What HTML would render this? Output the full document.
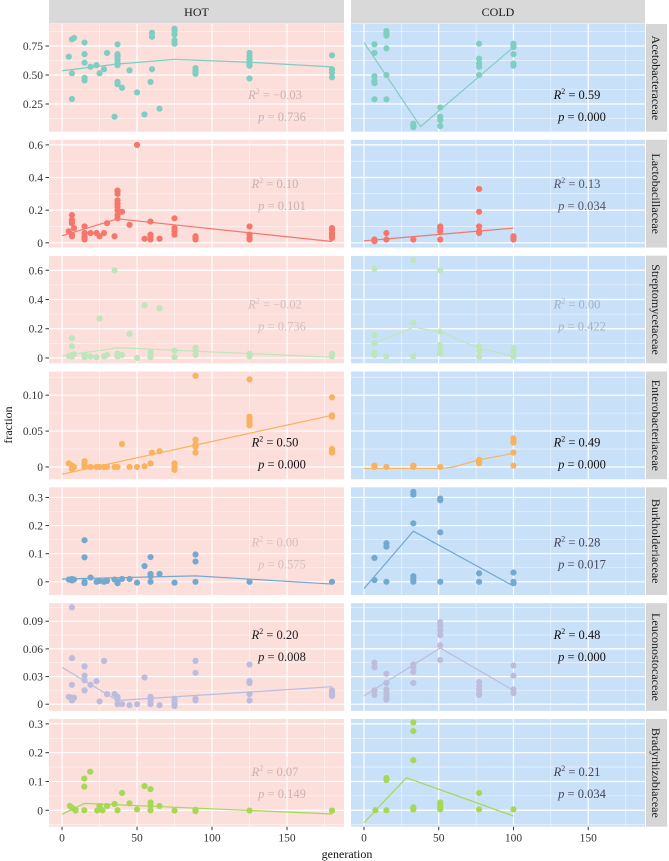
<!DOCTYPE html>
<html><head><meta charset="utf-8">
<style>
html,body{margin:0;padding:0;background:#fff;}
svg{display:block;font-family:"Liberation Serif",serif;}
</style></head>
<body>
<svg id="chart" width="669" height="861" viewBox="0 0 669 861" xmlns="http://www.w3.org/2000/svg"></svg>
<script>
// ---- data ----
const families = ["Acetobacteraceae","Lactobacillaceae","Streptomycetaceae","Enterobacteriaceae","Burkholderiaceae","Leuconostocaceae","Bradyrhizobiaceae"];
const conditions = ["HOT","COLD"];
const xTicks = [0,50,100,150];
const yTicks = [[0.25,0.5,0.75],[0,0.2,0.4,0.6],[0,0.2,0.4,0.6],[0,0.05,0.10],[0,0.1,0.2,0.3],[0,0.03,0.06,0.09],[0,0.1,0.2,0.3]];
const yTickLabels = [["0.25","0.50","0.75"],["0","0.2","0.4","0.6"],["0","0.2","0.4","0.6"],["0","0.05","0.10"],["0","0.1","0.2","0.3"],["0","0.03","0.06","0.09"],["0","0.1","0.2","0.3"]];
const yDomains = [[0.011,0.94],[-0.029,0.631],[-0.037,0.70],[-0.017,0.133],[-0.047,0.336],[-0.0072,0.1096],[-0.057,0.317]];
const seriesColors = ["#80cdc1","#f4776b","#bde6bd","#f9b25e","#74a9cf","#bcbddc","#a6d854"];

const acetoHot = [[4.5,0.658],[6.6,0.808],[8,0.82],[6.6,0.515],[6.6,0.293],[15,0.78],[15,0.68],[15,0.606],[15,0.475],[15,0.453],[19,0.571],[23,0.585],[25,0.515],[28,0.55],[30,0.69],[37,0.765],[37,0.68],[37,0.66],[37,0.63],[37,0.6],[37,0.585],[37,0.44],[37,0.42],[40,0.39],[35,0.14],[45,0.54],[50,0.35],[55,0.16],[60,0.865],[60,0.83],[60,0.55],[59,0.44],[65,0.21],[75,0.9],[75,0.88],[75,0.85],[75,0.8],[75,0.77],[89,0.56],[89,0.54],[89,0.52],[89,0.51],[125,0.69],[125,0.66],[125,0.63],[125,0.6],[125,0.58],[125,0.47],[180,0.67],[180,0.55],[180,0.52],[180,0.48]];
const acetoCold = [[7,0.765],[7,0.69],[7,0.49],[7,0.45],[7,0.43],[7,0.29],[15,0.88],[15,0.86],[15,0.84],[15,0.73],[15,0.5],[15,0.29],[33,0.08],[33,0.06],[33,0.05],[51,0.22],[51,0.14],[51,0.11],[51,0.06],[77,0.77],[77,0.64],[77,0.6],[77,0.57],[77,0.5],[100,0.77],[100,0.75],[100,0.74],[100,0.68],[100,0.6],[100,0.58]];
const lactoHot = [[4.5,0.07],[6.6,0.17],[6.6,0.14],[6.6,0.13],[6.6,0.12],[6.6,0.05],[6.6,0.04],[8,0.09],[15,0.1],[15,0.06],[15,0.04],[15,0.03],[15,0.02],[19,0.06],[23,0.06],[25,0.04],[28,0.06],[30,0.12],[35,0.04],[37,0.32],[37,0.3],[37,0.26],[37,0.24],[37,0.22],[37,0.2],[37,0.17],[37,0.15],[40,0.19],[45,0.11],[50,0.6],[55,0.025],[59,0.13],[59,0.05],[59,0.04],[59,0.02],[65,0.025],[75,0.15],[75,0.09],[75,0.07],[75,0.05],[89,0.04],[89,0.03],[89,0.02],[125,0.1],[125,0.05],[125,0.03],[125,0.02],[180,0.09],[180,0.08],[180,0.06],[180,0.05],[180,0.04],[180,0.03]];
const lactoCold = [[7,0.02],[7,0.01],[15,0.06],[15,0.02],[33,0.02],[51,0.1],[51,0.09],[51,0.07],[51,0.02],[77,0.33],[77,0.19],[77,0.1],[77,0.07],[77,0.06],[100,0.04],[100,0.03],[100,0.02]];
const streptoHot = [[4.5,0.014],[6.6,0.135],[6.6,0.08],[6.6,0.02],[6.6,0.01],[8,0.025],[15,0.02],[15,0.005],[19,0.01],[23,0.005],[25,0.27],[28,0.01],[30,0.02],[35,0.6],[37,0.03],[37,0.02],[37,0.01],[40,0.02],[45,0.165],[50,0.0],[55,0.36],[59,0.04],[59,0.02],[59,0.005],[65,0.34],[75,0.05],[75,0.005],[89,0.07],[89,0.05],[89,0.02],[125,0.03],[125,0.02],[125,0.01],[180,0.03],[180,0.02],[180,0.01]];
const streptoCold = [[7,0.61],[33,0.67],[51,0.6],[7,0.157],[7,0.1],[7,0.04],[7,0.02],[15,0.01],[33,0.24],[33,0.01],[51,0.18],[51,0.09],[51,0.06],[51,0.03],[77,0.08],[77,0.05],[77,0.01],[100,0.07],[100,0.04],[100,0.01]];
const enteroHot = [[4.5,0.005],[6.6,0.002],[6.6,-0.003],[8,0],[15,0.008],[15,0.004],[15,0],[19,0],[23,0],[25,0],[28,0],[30,0],[35,0],[37,0],[40,0.032],[45,0],[50,0],[55,0.001],[59,0.005],[60,0.02],[65,0.022],[75,0.005],[75,0],[75,-0.004],[89,0.127],[89,0.038],[89,0.031],[89,0.028],[89,0.02],[125,0.122],[125,0.07],[125,0.067],[125,0.062],[125,0.058],[180,0.097],[180,0.072],[180,0.07],[180,0.025],[180,0.022],[180,0.02]];
const enteroCold = [[7,0.002],[7,0],[15,0],[33,0.002],[33,0],[51,0],[77,0.01],[77,0.007],[77,0.005],[100,0.04],[100,0.037],[100,0.034],[100,0.02],[100,0.002]];
const burkhoHot = [[4.5,0.008],[6.6,0.01],[6.6,0.005],[8,0.008],[15,0.148],[15,0.087],[15,0],[15,-0.005],[19,0.015],[23,0],[25,0.003],[28,0],[30,0.003],[35,0.008],[37,0],[37,-0.005],[40,0.01],[45,0.01],[50,-0.003],[55,0.056],[59,0.088],[59,0.028],[59,0.02],[59,0],[65,0.028],[75,-0.003],[89,0.097],[89,0.072],[89,0],[125,0],[180,0]];
const burkhoCold = [[7,0.085],[7,0.006],[15,0.137],[15,0.125],[15,0],[33,0.32],[33,0.31],[33,0.208],[33,0.02],[33,0.01],[33,0],[51,0.296],[51,0.29],[51,0.176],[51,0],[77,0.03],[77,0],[100,0.033],[100,0],[100,-0.005]];
const leucoHot = [[4.5,0.008],[6.6,0.105],[6.6,0.05],[6.6,0.021],[6.6,0.007],[6.6,0.004],[8,0.007],[15,0.041],[15,0.031],[15,0.026],[15,0.015],[19,0.021],[23,0.025],[25,0.003],[28,0.047],[30,0.011],[35,0.011],[37,0.008],[37,0.005],[37,0],[40,0],[45,-0.001],[50,0],[55,0.029],[59,0.008],[59,0.005],[59,0.002],[59,0],[65,-0.001],[75,0.006],[75,0.003],[75,0],[75,-0.002],[89,0.047],[89,0.034],[89,0.006],[89,0.004],[125,0.043],[125,0.025],[125,0.023],[125,0.011],[125,0.004],[180,0.015],[180,0.013],[180,0.011],[180,0.009]];
const leucoCold = [[7,0.045],[7,0.04],[7,0.015],[7,0.01],[15,0.033],[15,0.023],[15,0.016],[15,0.012],[15,0.008],[15,0.005],[33,0.043],[33,0.04],[33,0.035],[33,0.023],[51,0.089],[51,0.085],[51,0.08],[51,0.075],[51,0.064],[51,0.048],[77,0.024],[77,0.02],[77,0.016],[77,0.012],[77,0.01],[100,0.042],[100,0.031],[100,0.016],[100,0.012]];
const bradyHot = [[5.2,0.015],[6.8,0.008],[9,0.002],[9,-0.001],[14.8,0.11],[14.8,0.082],[14.8,0],[18.8,0.134],[23.4,-0.001],[25,0.015],[27,0],[30,0.015],[35,0.022],[37,0],[40,0.06],[45,0.024],[50,0.003],[55,0.084],[59,0.073],[59,0.027],[59,0.015],[59,0],[65,0.015],[75,-0.001],[89,0.002],[89,-0.003],[125,-0.001],[180,-0.001]];
const bradyCold = [[7.6,0],[15,0.112],[15,0.105],[15,0],[33,0.305],[33,0.275],[33,0.174],[33,0.01],[33,0.003],[51,0.027],[51,0.02],[51,0.01],[51,0.003],[77,0.06],[77,0.003],[100,0.003]];

const hotPoints = [acetoHot,lactoHot,streptoHot,enteroHot,burkhoHot,leucoHot,bradyHot];
const coldPoints = [acetoCold,lactoCold,streptoCold,enteroCold,burkhoCold,leucoCold,bradyCold];

const hotFits = [
 [[0,0.537],[37,0.595],[75,0.635],[125,0.61],[180,0.57]],
 [[0,0.043],[37,0.147],[180,0.008]],
 [[0,0.014],[37,0.07],[125,0.03],[180,0.005]],
 [[0,-0.01],[180,0.072]],
 [[0,0.01],[89,0.021],[180,-0.008]],
 [[0,0.04],[37,0.004],[180,0.019]],
 [[0,-0.014],[15,0.024],[180,-0.013]]
];
const coldFits = [
 [[0,0.78],[37.8,0.055],[100,0.74]],
 [[0,0.012],[100,0.09]],
 [[7,0.1],[33,0.21],[51,0.18],[77,0.066],[100,0.014]],
 [[0,-0.002],[51,-0.002],[60,0],[77,0.01],[100,0.019]],
 [[0,-0.024],[33,0.18],[100,-0.015]],
 [[0,0.009],[51,0.061],[100,0.015]],
 [[0,-0.043],[28.4,0.113],[100,-0.02]]
];
const hotR2 = ["−0.03","0.10","−0.02","0.50","0.00","0.20","0.07"];
const hotP = ["0.736","0.101","0.736","0.000","0.575","0.008","0.149"];
const coldR2 = ["0.59","0.13","0.00","0.49","0.28","0.48","0.21"];
const coldP = ["0.000","0.034","0.422","0.000","0.017","0.000","0.034"];
const hotStatColor = ["#c9b2b0","#c9b2b0","#d3c0bd","#111","#d3c0bd","#222","#c9b2b0"];
const coldStatColor = ["#111","#556","#9fb3c8","#111","#445","#111","#445"];
const statOffsetR = [71,44,49,71,55,32,53];

// ---- layout ----
const NS = "http://www.w3.org/2000/svg";
const svg = document.getElementById("chart");
const panelX = [[49,344],[351,645]];
const xDom = [-8.7,188];
const rowTop = i => 24 + i*115.83;
const rowH = 107.7;
function xScale(p, v){ return panelX[p][0] + (v - xDom[0])/(xDom[1]-xDom[0])*(panelX[p][1]-panelX[p][0]); }
function yScale(r, v){ const d=yDomains[r]; return rowTop(r) + rowH - (v-d[0])/(d[1]-d[0])*rowH; }
function mk(tag, attrs, parent){ const e=document.createElementNS(NS,tag); for(const k in attrs) e.setAttribute(k,attrs[k]); (parent||svg).appendChild(e); return e; }

// headers
conditions.forEach((c,p)=>{
  const g = mk("g",{});
  
  
  mk("rect",{x:panelX[p][0],y:0,width:panelX[p][1]-panelX[p][0],height:23.5,fill:"#d9d9d9"},g);
  const t = mk("text",{x:(panelX[p][0]+panelX[p][1])/2,y:16,"text-anchor":"middle","font-size":"12",fill:"#1a1a1a"},g);
  t.textContent = c;
});

families.forEach((fam,r)=>{
  const top = rowTop(r);
  const d = yDomains[r];
  const step = yTicks[r][1]-yTicks[r][0];
  const minors = [];
  for(let v=yTicks[r][0]-step/2; v<=d[1]; v+=step) if(v>=d[0]) minors.push(v);
  [0,1].forEach(p=>{
    const g = mk("g",{});
    
    
    const x0=panelX[p][0], x1=panelX[p][1];
    mk("rect",{x:x0,y:top,width:x1-x0,height:rowH,fill:p===0?"#fcdedb":"#c9e0f9"},g);
    // minor grids
    minors.forEach(v=>mk("line",{x1:x0,x2:x1,y1:yScale(r,v),y2:yScale(r,v),stroke:"#fff","stroke-width":0.6,"stroke-opacity":0.75},g));
    [25,75,125,175].forEach(v=>mk("line",{x1:xScale(p,v),x2:xScale(p,v),y1:top,y2:top+rowH,stroke:"#fff","stroke-width":0.6,"stroke-opacity":0.75},g));
    yTicks[r].forEach(v=>mk("line",{x1:x0,x2:x1,y1:yScale(r,v),y2:yScale(r,v),stroke:"#fff","stroke-width":1.2},g));
    xTicks.forEach(v=>mk("line",{x1:xScale(p,v),x2:xScale(p,v),y1:top,y2:top+rowH,stroke:"#fff","stroke-width":1.2},g));
    // clip
    const cid="clip"+r+"_"+p;
    const cp=mk("clipPath",{id:cid},g); mk("rect",{x:x0,y:top,width:x1-x0,height:rowH},cp);
    const pts = p===0?hotPoints[r]:coldPoints[r];
    const col = seriesColors[r];
    const pg = mk("g",{"clip-path":"url(#"+cid+")"},g);
    pts.forEach(pt=>{
      const c = mk("circle",{cx:xScale(p,pt[0]),cy:yScale(r,pt[1]),r:3.1,fill:col},pg);
      
      
    });
    const fit = p===0?hotFits[r]:coldFits[r];
    const pl = mk("polyline",{points:fit.map(q=>xScale(p,q[0])+","+yScale(r,q[1])).join(" "),fill:"none",stroke:col,"stroke-width":1.2},pg);
    
    
    // stats
    const sc = p===0?hotStatColor[r]:coldStatColor[r];
    const rx = p===0?275:577, px = p===0?282:582;
    const t1 = mk("text",{x:rx,y:top+statOffsetR[r]+4,"text-anchor":"middle","font-size":"12.5",fill:sc},g);
    
    
    t1.innerHTML = '<tspan font-style="italic">R</tspan><tspan dy="-5" font-size="8">2</tspan><tspan dy="5"> = '+(p===0?hotR2[r]:coldR2[r])+'</tspan>';
    const t2 = mk("text",{x:px,y:top+statOffsetR[r]+26,"text-anchor":"middle","font-size":"12.5",fill:sc},g);
    
    
    t2.innerHTML = '<tspan font-style="italic">p</tspan> = '+(p===0?hotP[r]:coldP[r]);
  });
  // y axis ticks
  const ag = mk("g",{});
  
  
  yTicks[r].forEach((v,i)=>{
    const y=yScale(r,v);
    mk("line",{x1:45.5,x2:49,y1:y,y2:y,stroke:"#333","stroke-width":1},ag);
    const t=mk("text",{x:43,y:y+4,"text-anchor":"end","font-size":"11.5",fill:"#333"},ag);
    t.textContent=yTickLabels[r][i];
  });
  // right strip
  const sg = mk("g",{});
  
  
  mk("rect",{x:646,y:top,width:21,height:rowH,fill:"#d6d6d6"},sg);
  const st = mk("text",{x:0,y:0,"text-anchor":"middle","font-size":"12",fill:"#1a1a1a",transform:"translate(652,"+(top+rowH/2)+") rotate(90)"},sg);
  st.textContent = fam;
});

// x axes
[0,1].forEach(p=>{
  const g = mk("g",{});
  
  
  const yb = rowTop(6)+rowH;
  xTicks.forEach(v=>{
    const x=xScale(p,v);
    mk("line",{x1:x,x2:x,y1:yb,y2:yb+3.5,stroke:"#333","stroke-width":1},g);
    const t=mk("text",{x:x,y:yb+15,"text-anchor":"middle","font-size":"11.5",fill:"#333"},g);
    t.textContent=v;
  });
});
const xt = mk("text",{x:347,y:858,"text-anchor":"middle","font-size":"12",fill:"#111"});


xt.textContent = "generation";
const yt = mk("text",{x:0,y:0,"text-anchor":"middle","font-size":"12",fill:"#111",transform:"translate(12,425) rotate(-90)"});


yt.textContent = "fraction";
</script>
</body></html>
